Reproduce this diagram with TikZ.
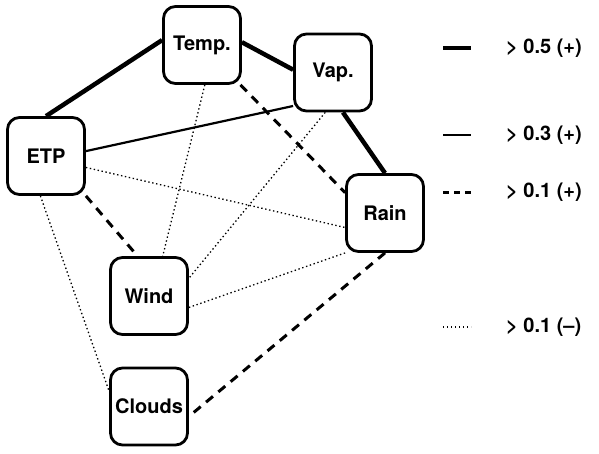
\documentclass[tikz,border=0pt]{standalone}
\usepackage{fontspec}
\setmainfont{TeX Gyre Heros}
\tikzset{
  var/.style={draw,line width=2.8pt,rounded corners=12pt,minimum size=77pt,
    inner sep=0pt,font=\fontsize{20}{24}\selectfont\bfseries},
  strong/.style={line width=4.5pt},
  medium/.style={line width=2.2pt},
  weak/.style={line width=3pt,dash pattern=on 9pt off 7pt},
  keyweak/.style={line width=3pt,dash pattern=on 6pt off 5pt},
  neg/.style={line width=1.3pt,dash pattern=on 1.4pt off 2.6pt},
  keytext/.style={anchor=west,inner sep=0pt,font=\fontsize{20}{24}\selectfont\bfseries}
}
\begin{document}
\begin{tikzpicture}[x=1pt,y=-1pt,line cap=butt]
        \useasboundingbox (0,0) rectangle (599,453);
        % draw the variables
        \node[var] (Temp) at (202,45) {Temp.};
        \node[var] (Vap) at (333,72.5) {Vap.};
        \node[var] (ETP) at (46,156) {ETP};
        \node[var] (Rain) at (385,213) {Rain};
        \node[var] (Wind) at (149,296) {Wind};
        \node[var] (Clouds) at (149,406.5) {Clouds};

        % draw the correlations
        \draw[strong] (ETP.north) -- (Temp.173);
        \draw[strong] (Temp.4) -- (Vap.176);
        \draw[strong] (Vap.-76) -- (Rain.north);
        \draw[medium] (ETP.7) -- (Vap.-140);
        \draw[weak] (Temp.-46) -- (Rain.153);
        \draw[weak] (ETP.-45) -- (Wind.106);
        \draw[weak] (Rain.south) -- (Clouds.-14);
        \draw[neg] (Temp.-86) -- (Wind.71);
        \draw[neg] (Vap.-101) -- (Wind.24);
        \draw[neg] (ETP.-16) -- (Rain.-160);
        \draw[neg] (Wind.-16) -- (Rain.south west);
        \draw[neg] (ETP.-98) -- (Clouds.159);

        % draw the legend
        \foreach \y/\sty/\txt in {
            48/strong/{> 0.5 (+)},
            135/medium/{> 0.3 (+)},
            192/keyweak/{> 0.1 (+)},
            327/neg/{> 0.1 (–)}}
        {
            \coordinate (key\y) at (443,\y);
            \draw[\sty] (key\y) -- ++(28,0);
            \node[keytext] (lab\y) at (506,\y) {\txt};
        }
\end{tikzpicture}
\end{document}
